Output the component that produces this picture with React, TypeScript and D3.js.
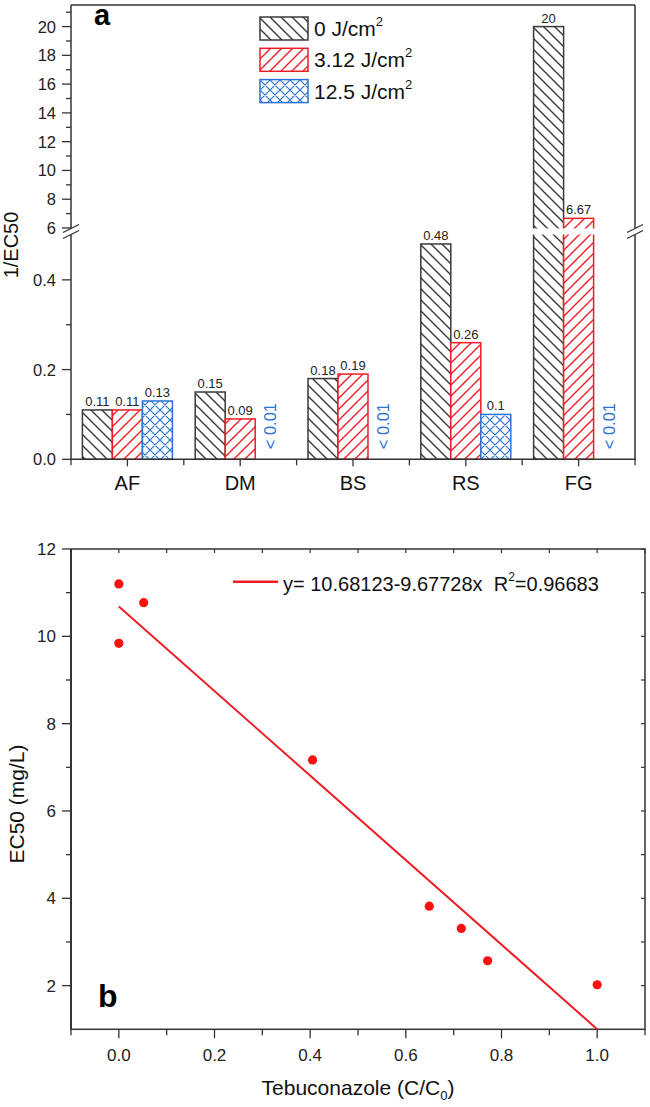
import React from 'react';
import * as d3 from 'd3';

const categories = ['AF', 'DM', 'BS', 'RS', 'FG'];
const seriesNames = ['0 J/cm', '3.12 J/cm', '12.5 J/cm'];
const dose0: (number | null)[] = [0.11, 0.15, 0.18, 0.48, 20];
const dose312: (number | null)[] = [0.11, 0.09, 0.19, 0.26, 6.67];
const dose125: (number | null)[] = [0.13, null, null, 0.1, null];
const belowLabel = '< 0.01';
const lowerTicks = [0, 0.2, 0.4];
const lowerMinor = [0.1, 0.3];
const upperTicks = [6, 8, 10, 12, 14, 16, 18, 20];
const upperMinor = [7, 9, 11, 13, 15, 17, 19, 21];

const concX = [0, 0, 0.052, 0.405, 0.649, 0.716, 0.771, 1.0];
const ec50 = [11.2, 9.84, 10.77, 7.17, 3.82, 3.31, 2.57, 2.02];
const intercept = 10.68123;
const slope = -9.67728;
const r2Text = '0.96683';
const xTicksB = [0, 0.2, 0.4, 0.6, 0.8, 1.0];
const xMinorB = [-0.1, 0.1, 0.3, 0.5, 0.7, 0.9, 1.1];
const yTicksB = [2, 4, 6, 8, 10, 12];
const yMinorB = [3, 5, 7, 9, 11];

const FONT = '"Liberation Sans", Arial, Helvetica, sans-serif';
const AX = '#333';
const BLACK = '#3a3a3a';
const RED = '#ee1c25';
const BLUE = '#2b73d6';
const seriesColors = [BLACK, RED, BLUE];
const seriesFills = ['url(#hatchBlack)', 'url(#hatchRed)', 'url(#hatchBlue)'];

export default function App() {
  // ---------- Panel a ----------
  const aL = 71, aR = 635, aT = 5, aB = 459.3;
  const xBand = d3.scaleBand<string>().domain(categories).range([aL, aR]);
  const barW = 30;
  const inner = d3.scaleBand<string>().domain(['0', '1', '2']).range([0, barW * 3]);
  const yLow = d3.scaleLinear().domain([0, 0.5]).range([aB, 235]);
  const yUp = d3.scaleLinear().domain([6, 21.5]).range([228, aT]);
  const yVal = (v: number) => (v <= 0.5 ? yLow(v) : yUp(v));
  const gapTop = 228.5, gapBot = 234.5;
  const seriesData = [dose0, dose312, dose125];

  const bars: React.ReactNode[] = [];
  const labels: React.ReactNode[] = [];
  categories.forEach((c, i) => {
    const gx = (xBand(c) as number) + (xBand.bandwidth() - barW * 3) / 2;
    seriesData.forEach((arr, j) => {
      const v = arr[i];
      const bx = gx + (inner(String(j)) as number);
      if (v === null) {
        const tx = bx + barW / 2 + 6;
        const ty = aB - 10;
        labels.push(
          <text key={`n${i}${j}`} x={tx} y={ty} transform={`rotate(-90 ${tx} ${ty})`}
            fontSize={16.5} fill={BLUE} fontFamily={FONT}>{belowLabel}</text>
        );
        return;
      }
      const top = yVal(v);
      bars.push(
        <rect key={`b${i}${j}`} x={bx} y={top} width={barW} height={aB - top}
          fill="white" />
      );
      bars.push(
        <rect key={`p${i}${j}`} x={bx} y={top} width={barW} height={aB - top}
          fill={seriesFills[j]} stroke={seriesColors[j]} strokeWidth={1.5} />
      );
      if (v > 0.5) {
        bars.push(
          <rect key={`g${i}${j}`} x={bx - 1.5} y={gapTop} width={barW + 3} height={gapBot - gapTop}
            fill="white" />
        );
      }
      labels.push(
        <text key={`l${i}${j}`} x={bx + barW / 2} y={top - 4} fontSize={13} textAnchor="middle"
          fill="#222" fontFamily={FONT}>{String(v)}</text>
      );
    });
  });

  const breakMarks = (x: number) => (
    <g key={`brk${x}`}>
      <rect x={x - 3} y={gapTop} width={6} height={gapBot - gapTop} fill="white" />
      <line x1={x - 8} y1={gapTop + 4} x2={x + 8} y2={gapTop - 4} stroke={AX} strokeWidth={1.3} />
      <line x1={x - 8} y1={gapBot + 4} x2={x + 8} y2={gapBot - 4} stroke={AX} strokeWidth={1.3} />
    </g>
  );

  // ---------- Panel b ----------
  const bL = 71, bR = 645, bT = 549, bB = 1029.3;
  const xB = d3.scaleLinear().domain([-0.1, 1.1]).range([bL, bR]);
  const yB = d3.scaleLinear().domain([1, 12]).range([bB, bT]);
  const fitLine = d3.line<number>().x((d) => xB(d)).y((d) => yB(intercept + slope * d));

  return (
    <svg width={650} height={1107} style={{ position: 'absolute', left: 0, top: 0, background: 'white' }}
      fontFamily={FONT}>
      <defs>
        <pattern id="hatchBlack" patternUnits="userSpaceOnUse" width={11} height={11}>
          <path d="M0,0 L11,11 M-2,9 L2,13 M9,-2 L13,2" stroke={BLACK} strokeWidth={1.4} />
        </pattern>
        <pattern id="hatchRed" patternUnits="userSpaceOnUse" width={11} height={11}>
          <path d="M0,11 L11,0 M-2,2 L2,-2 M9,13 L13,9" stroke={RED} strokeWidth={1.4} />
        </pattern>
        <pattern id="hatchBlue" patternUnits="userSpaceOnUse" width={10} height={10}>
          <path d="M0,0 L10,10 M-2,8 L2,12 M8,-2 L12,2 M0,10 L10,0 M-2,2 L2,-2 M8,12 L12,8"
            stroke={BLUE} strokeWidth={1.2} />
        </pattern>
      </defs>
      <rect x={0} y={0} width={650} height={1107} fill="white" />

      {/* ===== Panel a ===== */}
      {bars}
      {labels}
      {/* frame */}
      <line x1={aL} y1={aT} x2={aR} y2={aT} stroke={AX} strokeWidth={1.5} />
      <line x1={aL} y1={aT} x2={aL} y2={aB} stroke={AX} strokeWidth={1.5} />
      <line x1={aR} y1={aT} x2={aR} y2={aB} stroke={AX} strokeWidth={1.5} />
      <line x1={aL - 1} y1={aB} x2={aR + 1} y2={aB} stroke={AX} strokeWidth={1.5} />
      {breakMarks(aL)}
      {breakMarks(aR)}
      {/* y ticks */}
      {lowerTicks.map((t) => (
        <g key={`lt${t}`}>
          <line x1={aL - 9} x2={aL} y1={yLow(t)} y2={yLow(t)} stroke={AX} strokeWidth={1.3} />
          <text x={aL - 15} y={yLow(t) + 6} fontSize={16.5} textAnchor="end" fill="#222">{t.toFixed(1)}</text>
        </g>
      ))}
      {lowerMinor.map((t) => (
        <line key={`lm${t}`} x1={aL - 5} x2={aL} y1={yLow(t)} y2={yLow(t)} stroke={AX} strokeWidth={1.3} />
      ))}
      {upperTicks.map((t) => (
        <g key={`ut${t}`}>
          <line x1={aL - 9} x2={aL} y1={yUp(t)} y2={yUp(t)} stroke={AX} strokeWidth={1.3} />
          <text x={aL - 15} y={yUp(t) + 6} fontSize={16.5} textAnchor="end" fill="#222">{t}</text>
        </g>
      ))}
      {upperMinor.map((t) => (
        <line key={`um${t}`} x1={aL - 5} x2={aL} y1={yUp(t)} y2={yUp(t)} stroke={AX} strokeWidth={1.3} />
      ))}
      {/* x ticks */}
      {categories.map((c) => {
        const cx = (xBand(c) as number) + xBand.bandwidth() / 2;
        return (
          <g key={`xc${c}`}>
            <line x1={cx} x2={cx} y1={aB} y2={aB + 7} stroke={AX} strokeWidth={1.3} />
            <text x={cx} y={490} fontSize={20} textAnchor="middle" fill="#111">{c}</text>
          </g>
        );
      })}
      {categories.map((c) => {
        const bx = xBand(c) as number;
        return <line key={`xb${c}`} x1={bx} x2={bx} y1={aB} y2={aB + 6} stroke={AX} strokeWidth={1.3} />;
      })}
      <line x1={aR} x2={aR} y1={aB} y2={aB + 6} stroke={AX} strokeWidth={1.3} />
      <text x={18} y={245} transform="rotate(-90 18 245)" fontSize={20} textAnchor="middle" fill="#111">1/EC50</text>
      <text x={94} y={25} fontSize={29} fontWeight="bold" fill="#000">a</text>
      {/* legend */}
      {seriesNames.map((s, j) => {
        const ly = 17 + j * 31.3;
        return (
          <g key={`leg${j}`}>
            <rect x={260} y={ly} width={48} height={23} fill="white" />
            <rect x={260} y={ly} width={48} height={23} fill={seriesFills[j]} stroke={seriesColors[j]} strokeWidth={1.5} />
            <text x={314} y={ly + 19} fontSize={21} fill="#111">
              {s}<tspan fontSize={13} dy={-10}>2</tspan>
            </text>
          </g>
        );
      })}

      {/* ===== Panel b ===== */}
      <rect x={bL} y={bT} width={bR - bL} height={bB - bT} fill="none" stroke={AX} strokeWidth={1.5} />
      <line x1={bL} y1={bT} x2={bL} y2={bB} stroke={AX} strokeWidth={2} />
      {yTicksB.map((t) => (
        <g key={`yb${t}`}>
          <line x1={bL - 9} x2={bL} y1={yB(t)} y2={yB(t)} stroke={AX} strokeWidth={1.3} />
          <line x1={bR - 4} x2={bR} y1={yB(t)} y2={yB(t)} stroke={AX} strokeWidth={1.2} />
          <text x={bL - 15} y={yB(t) + 6} fontSize={17} textAnchor="end" fill="#222">{t}</text>
        </g>
      ))}
      {yMinorB.map((t) => (
        <g key={`ybm${t}`}>
          <line x1={bL - 5} x2={bL} y1={yB(t)} y2={yB(t)} stroke={AX} strokeWidth={1.3} />
          <line x1={bR - 4} x2={bR} y1={yB(t)} y2={yB(t)} stroke={AX} strokeWidth={1.2} />
        </g>
      ))}
      {xTicksB.map((t) => (
        <g key={`xbt${t}`}>
          <line x1={xB(t)} x2={xB(t)} y1={bB} y2={bB + 9} stroke={AX} strokeWidth={1.3} />
          <line x1={xB(t)} x2={xB(t)} y1={bT} y2={bT + 4} stroke={AX} strokeWidth={1.2} />
          <text x={xB(t)} y={1061} fontSize={17} textAnchor="middle" fill="#222">{t.toFixed(1)}</text>
        </g>
      ))}
      {xMinorB.map((t) => (
        <g key={`xbm${t}`}>
          <line x1={xB(t)} x2={xB(t)} y1={bB} y2={bB + 6} stroke={AX} strokeWidth={1.3} />
          <line x1={xB(t)} x2={xB(t)} y1={bT} y2={bT + 4} stroke={AX} strokeWidth={1.2} />
        </g>
      ))}
      <path d={fitLine([0, 1]) as string} fill="none" stroke={RED} strokeWidth={2} />
      {concX.map((xv, i) => (
        <circle key={`pt${i}`} cx={xB(xv)} cy={yB(ec50[i])} r={4.6} fill="#ff1010" />
      ))}
      <line x1={233} x2={278} y1={581.7} y2={581.7} stroke={RED} strokeWidth={2.5} />
      <text x={283} y={591} fontSize={20} fill="#111" style={{ whiteSpace: 'pre' }}>
        {`y= ${intercept}${slope}x  R`}<tspan fontSize={12} dy={-10}>2</tspan><tspan dy={10}>{`=${r2Text}`}</tspan>
      </text>
      <text x={98} y={1007} fontSize={32} fontWeight="bold" fill="#000">b</text>
      <text x={24} y={804} transform="rotate(-90 24 804)" fontSize={21} textAnchor="middle" fill="#111">EC50 (mg/L)</text>
      <text x={358} y={1095} fontSize={21} textAnchor="middle" fill="#111">
        Tebuconazole (C/C<tspan fontSize={13} dy={5}>0</tspan><tspan dy={-5}>)</tspan>
      </text>
    </svg>
  );
}
